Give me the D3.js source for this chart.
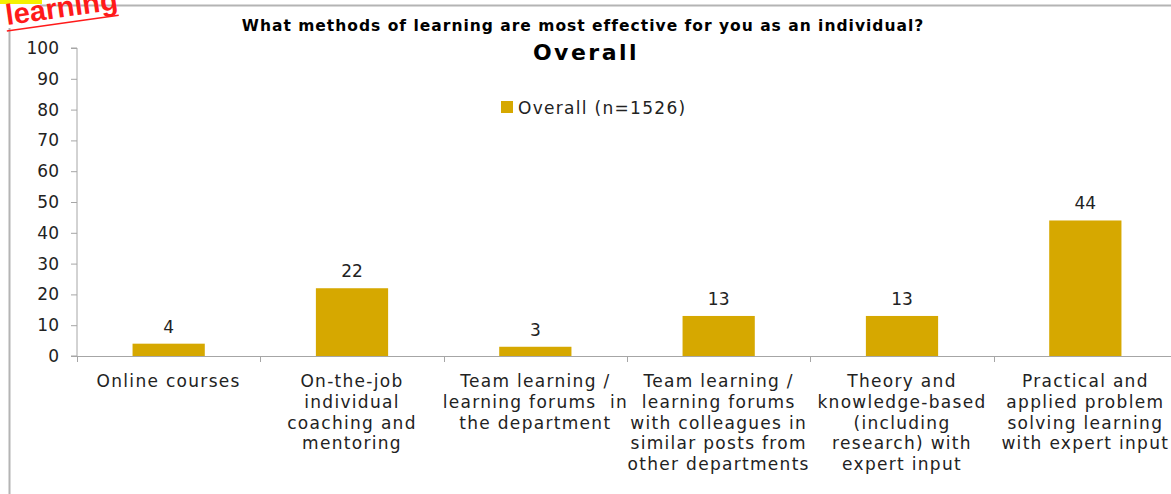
<!DOCTYPE html>
<html lang="en">
<head>
<meta charset="UTF-8">
<title>Learning methods</title>
<style>
    html, body { margin: 0; padding: 0; background: #ffffff; }
    svg { display: block; font-family: "DejaVu Sans", Arial, sans-serif; }
    .axis path, .axis line { stroke: #a6a6a6; }
    .axis text { fill: #222; font-size: 17px; font-family: "DejaVu Sans", sans-serif; }
    .wide { letter-spacing: 1.3px; }
</style>
<script src="https://d3js.org/d3.v7.min.js"></script>
</head>
<body>
<svg id="canvas"></svg>
<script>
// Chart data
let categories = [
    ['Online courses'],
    ['On-the-job', 'individual', 'coaching and', 'mentoring'],
    ['Team learning /', 'learning forums  in', 'the department'],
    ['Team learning /', 'learning forums', 'with colleagues in', 'similar posts from', 'other departments'],
    ['Theory and', 'knowledge-based', '(including', 'research) with', 'expert input'],
    ['Practical and', 'applied problem', 'solving learning', 'with expert input']
];
let values = [4, 22, 3, 13, 13, 44];
let yTicks = [0, 10, 20, 30, 40, 50, 60, 70, 80, 90, 100];
let seriesName = 'Overall (n=1526)';
let chartTitle = 'What methods of learning are most effective for you as an individual?';
let subTitle = 'Overall';

let width = 1171;
let height = 494;
let svg = d3.select('#canvas').attr('width', width).attr('height', height);
let barColor = '#d6a800';

// slide decoration: frame lines, highlight and stamp
svg.append('rect').attr('x', 0).attr('y', 0).attr('width', 42).attr('height', 4).attr('fill', '#f5f000');
svg.append('line').attr('x1', 40).attr('x2', width).attr('y1', 5.5).attr('y2', 5.5)
    .attr('stroke', '#b4b4b4').attr('stroke-width', 2);
svg.append('line').attr('x1', 9.5).attr('x2', 9.5).attr('y1', 28).attr('y2', height)
    .attr('stroke', '#b4b4b4').attr('stroke-width', 2);
let stamp = svg.append('g').attr('transform', 'translate(7,25) rotate(-8)');
stamp.append('text').text('learning')
    .attr('font-family', '"Liberation Sans", Arial, sans-serif')
    .attr('font-weight', 'bold').attr('font-size', 29).attr('fill', '#ff1a1a');
stamp.append('line').attr('x1', -1).attr('x2', 112).attr('y1', 6).attr('y2', 6)
    .attr('stroke', '#ff1a1a').attr('stroke-width', 1.5);

// Scales
let margin = {left: 77, top: 48, bottom: 356, right: 1177};
let xScale = d3.scaleBand()
    .domain(d3.range(categories.length))
    .range([margin.left, margin.right])
    .paddingInner(0.606)
    .paddingOuter(0.303);
let yScale = d3.scaleLinear()
    .domain([0, 100])
    .range([margin.bottom, margin.top]);

// Axes
let yAxis = d3.axisLeft(yScale).tickValues(yTicks).tickSize(6).tickPadding(12);
svg.append('g')
    .attr('class', 'axis')
    .attr('transform', 'translate(' + margin.left + ',0)')
    .call(yAxis)
    .call(g => g.select('.domain').attr('d', 'M-6,' + margin.top + 'H0V' + margin.bottom + 'H-6'));

let xTickScale = d3.scaleLinear().domain([0, categories.length]).range([margin.left, margin.right]);
let xAxis = svg.append('g').attr('class', 'axis');
xAxis.append('line')
    .attr('x1', margin.left).attr('x2', width)
    .attr('y1', margin.bottom + 0.5).attr('y2', margin.bottom + 0.5)
    .attr('stroke', '#a6a6a6');
xAxis.selectAll('.xtick')
    .data(d3.range(categories.length + 1))
    .enter()
    .append('line')
    .attr('class', 'xtick')
    .attr('x1', (d) => Math.round(xTickScale(d)) + 0.5)
    .attr('x2', (d) => Math.round(xTickScale(d)) + 0.5)
    .attr('y1', margin.bottom)
    .attr('y2', margin.bottom + 6)
    .attr('stroke', '#a6a6a6');

// Category labels
let labels = svg.append('g').attr('class', 'axis');
categories.forEach((lines, i) => {
    let cx = xScale(i) + xScale.bandwidth() / 2;
    let t = labels.append('text')
        .attr('class', 'wide')
        .attr('text-anchor', 'middle')
        .attr('x', cx)
        .attr('y', 387);
    lines.forEach((line, j) => {
        t.append('tspan')
            .attr('x', cx)
            .attr('dy', j === 0 ? 0 : 20.8)
            .attr('xml:space', 'preserve')
            .text(line);
    });
});

// Bars
svg.selectAll('.bar')
    .data(values)
    .enter()
    .append('rect')
    .attr('class', 'bar')
    .attr('fill', barColor)
    .attr('x', (d, i) => xScale(i))
    .attr('width', xScale.bandwidth())
    .attr('y', (d) => yScale(d))
    .attr('height', (d) => yScale(0) - yScale(d));

// Value labels
svg.selectAll('.value')
    .data(values)
    .enter()
    .append('text')
    .attr('class', 'value')
    .attr('text-anchor', 'middle')
    .attr('font-size', 17)
    .attr('fill', '#222')
    .attr('x', (d, i) => xScale(i) + xScale.bandwidth() / 2)
    .attr('y', (d) => yScale(d) - 11)
    .text((d) => d);

// Titles
svg.append('text')
    .attr('x', 583).attr('y', 31)
    .attr('text-anchor', 'middle')
    .attr('font-family', '"DejaVu Sans", sans-serif')
    .attr('font-weight', 'bold').attr('font-size', 15.5)
    .attr('letter-spacing', 1)
    .attr('fill', '#000')
    .text(chartTitle);
svg.append('text')
    .attr('x', 586).attr('y', 60)
    .attr('text-anchor', 'middle')
    .attr('font-family', '"DejaVu Sans", sans-serif')
    .attr('font-weight', 'bold').attr('font-size', 22)
    .attr('letter-spacing', 2.5)
    .attr('fill', '#000')
    .text(subTitle);

// Legend
let legend = svg.append('g').attr('transform', 'translate(501,101)');
legend.append('rect').attr('width', 12).attr('height', 12).attr('fill', barColor);
legend.append('text').attr('x', 17).attr('y', 13)
    .attr('class', 'wide')
    .attr('font-size', 17).attr('fill', '#222')
    .text(seriesName);
</script>
</body>
</html>
